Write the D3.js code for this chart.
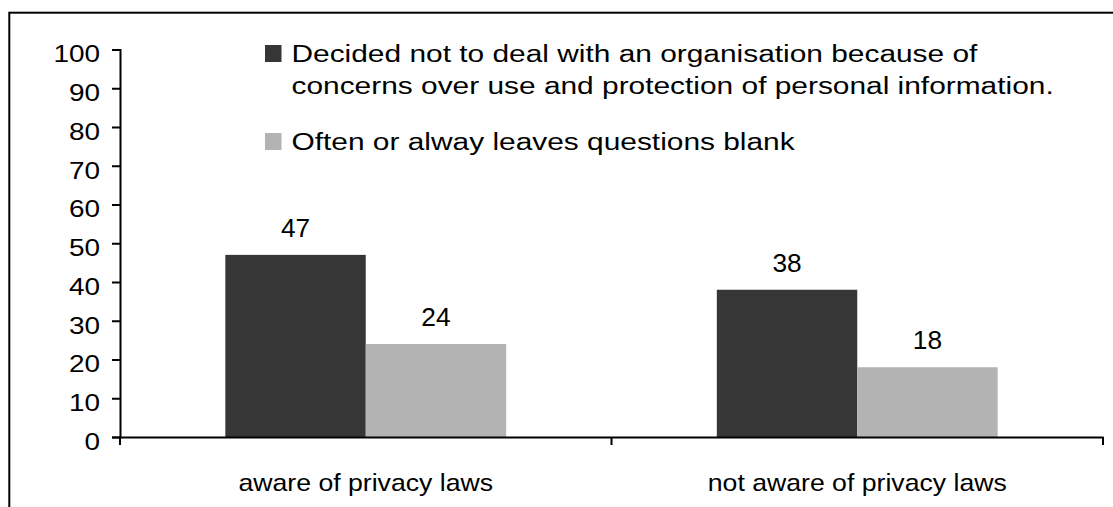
<!DOCTYPE html>
<html>
<head>
<meta charset="utf-8">
<script src="https://cdn.jsdelivr.net/npm/d3@7"></script>
<style>
  html, body { margin: 0; padding: 0; background: #fff; }
  svg { display: block; }
  text { font-family: "Liberation Sans", Arial, sans-serif; fill: #000; }
</style>
</head>
<body>
<svg id="chart" width="1113" height="507"></svg>
<script>
// Survey results: share of respondents (%) by awareness of privacy laws
const categories = ["aware of privacy laws", "not aware of privacy laws"];
const seriesNames = [
  ["Decided not to deal with an organisation because of", "concerns over use and protection of personal information."],
  ["Often or alway leaves questions blank"]
];
const decidedNotToDeal = [47, 38];
const leavesBlank = [24, 18];
const yTicks = [0, 10, 20, 30, 40, 50, 60, 70, 80, 90, 100];
const colors = ["#363636", "#b3b3b3"];

const svg = d3.select("#chart");
const W = 1113, H = 507;
const plot = { left: 120, right: 1103, top: 49.5, bottom: 437 };
const sx = 1.14; // horizontal stretch of the lettering

// Outer frame (runs off the right and bottom edges)
svg.append("rect")
  .attr("x", 9.3).attr("y", 12.7)
  .attr("width", W + 20).attr("height", H + 20)
  .attr("fill", "none").attr("stroke", "#000").attr("stroke-width", 2);

const x0 = d3.scaleBand().domain(categories).range([plot.left, plot.right]).paddingInner(0).paddingOuter(0);
const y = d3.scaleLinear().domain([0, 100]).range([plot.bottom, plot.top]);
// two bars per group, gap of 1.5 bar widths split on both sides
const barW = x0.bandwidth() / 3.5;
const x1 = d3.scaleBand().domain([0, 1]).range([0, 2 * barW]).padding(0);

const series = [decidedNotToDeal, leavesBlank];

// Bars with value labels
const groups = svg.append("g").selectAll("g")
  .data(categories)
  .join("g")
  .attr("transform", d => `translate(${x0(d) + (x0.bandwidth() - 2 * barW) / 2},0)`);

groups.each(function (cat, ci) {
  const g = d3.select(this);
  series.forEach((vals, si) => {
    g.append("rect")
      .attr("x", x1(si))
      .attr("y", y(vals[ci]))
      .attr("width", x1.bandwidth())
      .attr("height", y(0) - y(vals[ci]))
      .attr("fill", colors[si]);
    g.append("g")
      .attr("transform", `translate(${x1(si) + x1.bandwidth() / 2},${y(vals[ci]) - 18})`)
      .append("text")
      .attr("text-anchor", "middle")
      .attr("font-size", 25)
      .attr("transform", `scale(1.05,1)`)
      .text(vals[ci]);
  });
});

// Y axis
const yAxis = svg.append("g")
  .attr("transform", `translate(${plot.left},0)`)
  .call(d3.axisLeft(y).tickValues(yTicks).tickSize(8).tickFormat(d3.format("d")));
yAxis.select(".domain").attr("stroke", "#000").attr("stroke-width", 2);
yAxis.selectAll(".tick line").attr("stroke", "#000").attr("stroke-width", 2);
yAxis.selectAll(".tick text").each(function () {
  d3.select(this)
    .attr("x", null).attr("dy", null)
    .attr("text-anchor", "end")
    .attr("dominant-baseline", "central")
    .attr("font-size", 24.5)
    .attr("font-family", "Liberation Sans, Arial, sans-serif")
    .attr("fill", "#000")
    .attr("transform", `translate(-20,4) scale(${sx},1)`);
});

// X axis
const xAxis = svg.append("g")
  .attr("transform", `translate(0,${plot.bottom})`)
  .call(d3.axisBottom(x0).tickSize(0).tickFormat(""));
xAxis.select(".domain").attr("stroke", "#000").attr("stroke-width", 2);
xAxis.selectAll(".tick").remove();
// boundary ticks between categories
const bounds = [plot.left, plot.left + x0.bandwidth(), plot.right];
xAxis.selectAll("line.bound").data(bounds).join("line")
  .attr("class", "bound")
  .attr("x1", d => d).attr("x2", d => d)
  .attr("y1", 0).attr("y2", 8)
  .attr("stroke", "#000").attr("stroke-width", 2);
// category labels
xAxis.selectAll("g.cat").data(categories).join("g")
  .attr("class", "cat")
  .attr("transform", d => `translate(${x0(d) + x0.bandwidth() / 2},54)`)
  .append("text")
  .attr("text-anchor", "middle")
  .attr("font-size", 24)
  .attr("transform", `scale(1.11,1)`)
  .text(d => d);

// Legend
const legend = svg.append("g");
const legendRows = [
  { lines: seriesNames[0], baseline: 62, color: colors[0] },
  { lines: seriesNames[1], baseline: 150, color: colors[1] }
];
legendRows.forEach(row => {
  legend.append("rect")
    .attr("x", 265).attr("y", row.baseline - 17)
    .attr("width", 16.5).attr("height", 17)
    .attr("fill", row.color);
  row.lines.forEach((line, i) => {
    legend.append("g")
      .attr("transform", `translate(291.5,${row.baseline + i * 32})`)
      .append("text")
      .attr("font-size", 24.5)
      .attr("transform", `scale(1.22,1)`)
      .text(line);
  });
});
</script>
</body>
</html>
